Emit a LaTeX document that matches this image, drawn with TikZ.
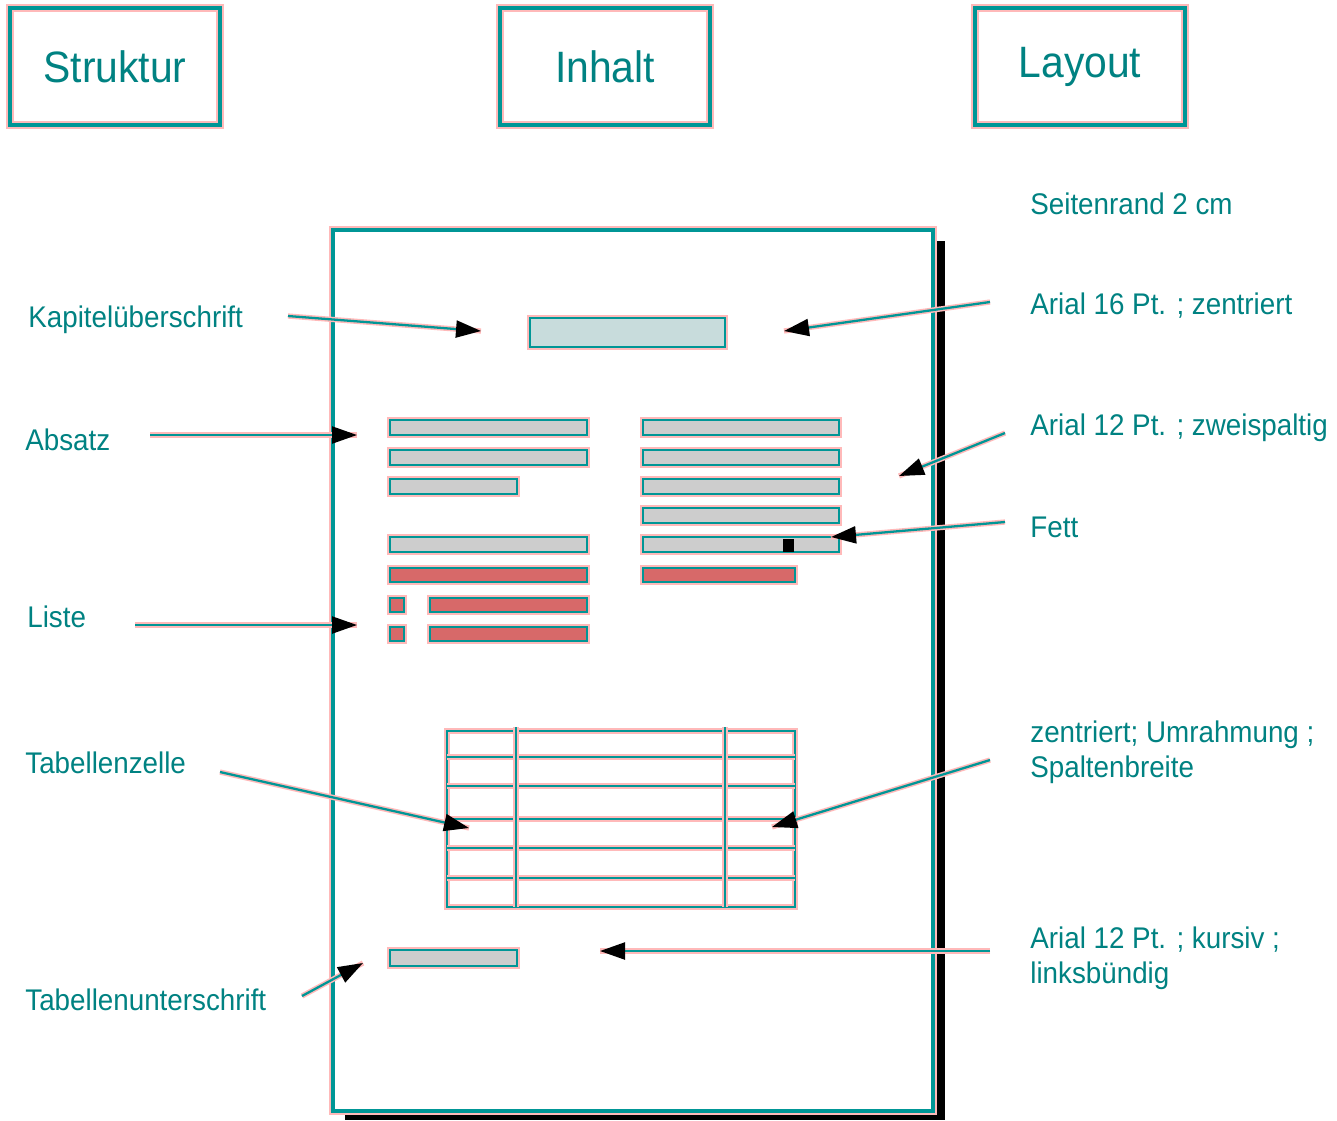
\documentclass[tikz,border=0pt]{standalone}
\usepackage{fontspec}
\setmainfont{Liberation Sans}[FakeStretch=0.93]
\usetikzlibrary{arrows.meta}
\definecolor{tl}{RGB}{0,150,150}
\definecolor{tltext}{RGB}{0,130,130}
\definecolor{halo}{RGB}{255,185,185}
\definecolor{barg}{RGB}{205,205,205}
\definecolor{barh}{RGB}{200,220,220}
\definecolor{barr}{RGB}{215,105,105}
\begin{document}
\begin{tikzpicture}[x=0.02cm,y=-0.02cm,
  tline/.style={draw=tl, line width=2pt, preaction={draw=halo, line width=4.5pt}},
  hbox/.style={tline, minimum width=4.2cm, minimum height=2.34cm, font=\fontsize{25}{30}\selectfont, text=tltext, inner sep=0pt},
  lab/.style={anchor=west, inner sep=0pt, font=\fontsize{17}{20}\selectfont, text=tltext, align=left},
  bar/.style={draw=tl, line width=1.6pt, preaction={draw=halo, line width=3.8pt}},
  grid/.style={draw=tl, line width=1.6pt, preaction={draw=halo, line width=3.8pt}},
  conn/.style={draw=tl, line width=1.3pt, preaction={draw=halo, line width=3pt, -}, -{Triangle[length=0.5cm,width=0.34cm,black]}},
]
\useasboundingbox (0,0) rectangle (1337,1120);
\fill[white] (0,0) rectangle (1337,1120);

% header boxes
\node[hbox] (struktur) at (115,66.5) {Struktur};
\node[hbox] (inhalt) at (605,66.5) {Inhalt};
\node[hbox] (layout) at (1080,66.5) {Layout};

% page with shadow
\fill[black] (345,241) rectangle (945,1120);
\draw[tline, fill=white] (333,230) rectangle (933,1111);

% heading bar
\draw[bar, fill=barh] (530,318) rectangle (725,347);

% left column
\draw[bar, fill=barg] (390,420) rectangle (587,435);
\draw[bar, fill=barg] (390,450) rectangle (587,465);
\draw[bar, fill=barg] (390,479) rectangle (517,494);
\draw[bar, fill=barg] (390,537) rectangle (587,552);
\draw[bar, fill=barr] (390,568) rectangle (587,582);
\draw[bar, fill=barr] (390,598) rectangle (404,612);
\draw[bar, fill=barr] (390,627) rectangle (404,641);
\draw[bar, fill=barr] (430,598) rectangle (587,612);
\draw[bar, fill=barr] (430,627) rectangle (587,641);

% right column
\draw[bar, fill=barg] (643,420) rectangle (839,435);
\draw[bar, fill=barg] (643,450) rectangle (839,465);
\draw[bar, fill=barg] (643,479) rectangle (839,494);
\draw[bar, fill=barg] (643,508) rectangle (839,523);
\draw[bar, fill=barg] (643,537) rectangle (839,552);
\draw[bar, fill=barr] (643,568) rectangle (795,582);
\fill[black] (783,539) rectangle (794,552);

% table
\draw[grid] (447,731) rectangle (795,907);
\foreach \y in {757,786,819,848,878} \draw[grid] (447,\y) -- (795,\y);
\foreach \x in {516,725} \draw[grid] (\x,727) -- (\x,907);

% table caption bar
\draw[bar, fill=barg] (390,950) rectangle (517,966);

% labels left
\node[lab] (kap) at (28,320) {Kapitelüberschrift};
\node[lab] (abs) at (25,440) {Absatz};
\node[lab] (lis) at (27,617) {Liste};
\node[lab] (tz) at (25,763) {Tabellenzelle};
\node[lab] (tu) at (25,1000) {Tabellenunterschrift};

% labels right
\node[lab] (rand) at (1030,204) {Seitenrand 2 cm};
\node[lab] (a16) at (1030,306) {Arial 16 Pt. ; zentriert};
\node[lab] (a12) at (1030,428) {Arial 12 Pt. ; zweispaltig};
\node[lab] (fett) at (1030,527) {Fett};
\node[lab] (zen) at (1030,752) {zentriert; Umrahmung ;\\Spaltenbreite};
\node[lab] (kur) at (1030,958) {Arial 12 Pt. ; kursiv ;\\linksbündig};

% connector end points
\coordinate (kapS) at (288,316);  \coordinate (kapT) at (481,331);
\coordinate (absS) at (150,435);  \coordinate (absT) at (357,435);
\coordinate (lisS) at (135,625);  \coordinate (lisT) at (357,625);
\coordinate (tzS) at (220,772);   \coordinate (tzT) at (469,828);
\coordinate (tuS) at (302,996);   \coordinate (tuT) at (363,963);
\coordinate (a16S) at (990,302);  \coordinate (a16T) at (784,331);
\coordinate (a12S) at (1005,433); \coordinate (a12T) at (899,476);
\coordinate (fettS) at (1005,522); \coordinate (fettT) at (831,537);
\coordinate (zenS) at (990,760);  \coordinate (zenT) at (772,827);
\coordinate (kurS) at (990,951);  \coordinate (kurT) at (600,951);

\draw[conn] (kapS) -- (kapT);
\draw[conn] (absS) -- (absT);
\draw[conn] (lisS) -- (lisT);
\draw[conn] (tzS) -- (tzT);
\draw[conn] (tuS) -- (tuT);
\draw[conn] (a16S) -- (a16T);
\draw[conn] (a12S) -- (a12T);
\draw[conn] (fettS) -- (fettT);
\draw[conn] (zenS) -- (zenT);
\draw[conn] (kurS) -- (kurT);
\end{tikzpicture}
\end{document}
